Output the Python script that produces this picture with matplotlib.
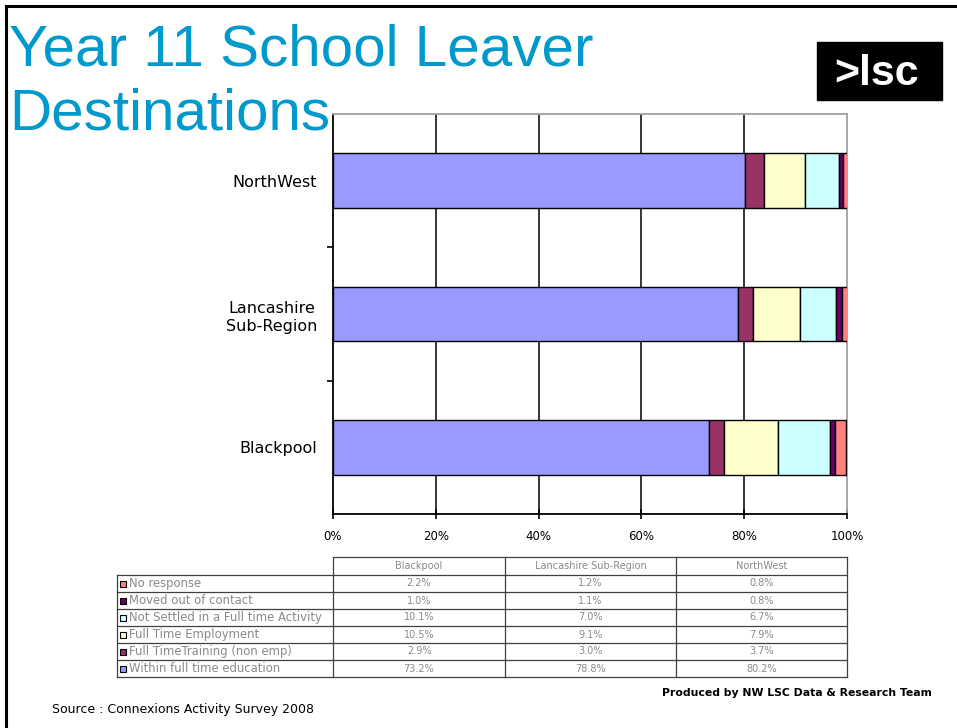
import matplotlib
matplotlib.use("Agg")
import matplotlib.pyplot as plt
from matplotlib.patches import Rectangle
from matplotlib.lines import Line2D
import numpy as np

categories = ["Blackpool", "Lancashire\nSub-Region", "NorthWest"]
table_headers = ["Blackpool", "Lancashire Sub-Region", "NorthWest"]
series_names = ["Within full time education", "Full TimeTraining (non emp)",
                "Full Time Employment", "Not Settled in a Full time Activity",
                "Moved out of contact", "No response"]
series_colors = ["#9999FF", "#993366", "#FFFFCC", "#CCFFFF", "#660066", "#FF8080"]
within_edu = [73.2, 78.8, 80.2]
training = [2.9, 3.0, 3.7]
employment = [10.5, 9.1, 7.9]
not_settled = [10.1, 7.0, 6.7]
moved_out = [1.0, 1.1, 0.8]
no_response = [2.2, 1.2, 0.8]
series_values = [within_edu, training, employment, not_settled, moved_out, no_response]
xticks = [0, 20, 40, 60, 80, 100]
xtick_labels = ["0%", "20%", "40%", "60%", "80%", "100%"]

W, H = 957, 728
fig = plt.figure(figsize=(W / 100, H / 100), dpi=100)

def fx(px):
    return px / W

def fy(py):
    return 1 - py / H

# slide border lines
fig.add_artist(Line2D([fx(6), fx(957)], [fy(6), fy(6)], color="black", lw=2.2))
fig.add_artist(Line2D([fx(6), fx(6)], [fy(6), fy(728)], color="black", lw=2.2))

title_font = ["Liberation Sans", "DejaVu Sans"]
fig.text(fx(9), fy(65), "Year 11 School Leaver", color="#0099CC", fontsize=42,
         family=title_font, ha="left", va="baseline")
fig.text(fx(9), fy(130), "Destinations", color="#0099CC", fontsize=42,
         family=title_font, ha="left", va="baseline")

# logo
fig.add_artist(Rectangle((fx(817), fy(100)), fx(125), 58 / H, color="black",
                         transform=fig.transFigure))
fig.text(fx(877), fy(85), ">lsc", color="white", fontsize=31, fontweight="bold",
         family=title_font, ha="center", va="baseline")

# main chart
ax = fig.add_axes([fx(333), fy(514), fx(847) - fx(333), (514 - 114) / H])
y = np.arange(len(categories))
left = np.zeros(len(categories))
for name, vals, col in zip(series_names, series_values, series_colors):
    ax.barh(y, vals, left=left, height=0.41, color=col, edgecolor="black",
            linewidth=1.0, zorder=3, label=name)
    left = left + np.array(vals)

ax.set_xlim(0, 100)
ax.set_ylim(-0.5, 2.5)
ax.set_xticks(xticks)
ax.set_xticklabels(xtick_labels, fontsize=8.5, family="DejaVu Sans")
ax.set_yticks(y)
ax.set_yticklabels(categories, fontsize=11.5, family="DejaVu Sans",
                   ha="right", multialignment="center", linespacing=1.3)
ax.tick_params(axis="y", which="major", length=0, pad=11.5)
ax.set_yticks([0.5, 1.5], minor=True)
ax.tick_params(axis="y", which="minor", length=4, width=1.2, direction="out")
ax.tick_params(axis="x", which="major", length=7, width=1.2, direction="inout", pad=8)
for v in xticks[1:-1]:
    ax.axvline(v, color="black", lw=1.1, zorder=1)
for s in ["top", "right"]:
    ax.spines[s].set_color("#A0A0A0")
    ax.spines[s].set_linewidth(1.3)
for s in ["left", "bottom"]:
    ax.spines[s].set_color("black")
    ax.spines[s].set_linewidth(1.3)

# data table
tab = fig.add_axes([0, 0, 1, 1], facecolor="none")
tab.set_xlim(0, W)
tab.set_ylim(H, 0)
tab.axis("off")
col_edges = [333, 505, 676, 847]
lab_left = 117
top_y = 557
head_bot = 575
row_h = (677 - head_bot) / 6
lc = "#404040"
tab.plot([col_edges[0], col_edges[-1]], [top_y, top_y], color=lc, lw=0.9)
for cx in col_edges:
    tab.plot([cx, cx], [top_y, 677], color=lc, lw=0.9)
tab.plot([lab_left, lab_left], [head_bot, 677], color=lc, lw=0.9)
for i in range(7):
    yy = head_bot + i * row_h
    tab.plot([lab_left, col_edges[-1]], [yy, yy], color=lc, lw=0.9)
tcol = "#8a8a8a"
for j, hname in enumerate(table_headers):
    tab.text((col_edges[j] + col_edges[j + 1]) / 2, (top_y + head_bot) / 2, hname,
             ha="center", va="center", fontsize=7, color=tcol, family="DejaVu Sans")
rev_names = series_names[::-1]
rev_vals = series_values[::-1]
rev_cols = series_colors[::-1]
for i, (nm, vals, col) in enumerate(zip(rev_names, rev_vals, rev_cols)):
    yc = head_bot + (i + 0.5) * row_h
    tab.add_patch(Rectangle((lab_left + 3, yc - 3), 6, 6, facecolor=col,
                            edgecolor="black", lw=0.8))
    tab.text(lab_left + 12, yc, nm, ha="left", va="center", fontsize=8.4,
             color=tcol, family="DejaVu Sans")
    for j, v in enumerate(vals):
        tab.text((col_edges[j] + col_edges[j + 1]) / 2, yc, f"{v:.1f}%",
                 ha="center", va="center", fontsize=7, color=tcol,
                 family="DejaVu Sans")

fig.text(fx(662), fy(693), "Produced by NW LSC Data & Research Team", fontsize=7.8,
         fontweight="bold", family="DejaVu Sans", ha="left", va="center")
fig.text(fx(52), fy(710), "Source : Connexions Activity Survey 2008", fontsize=9,
         family="DejaVu Sans", ha="left", va="center")

fig.savefig("out.png", dpi=100)
